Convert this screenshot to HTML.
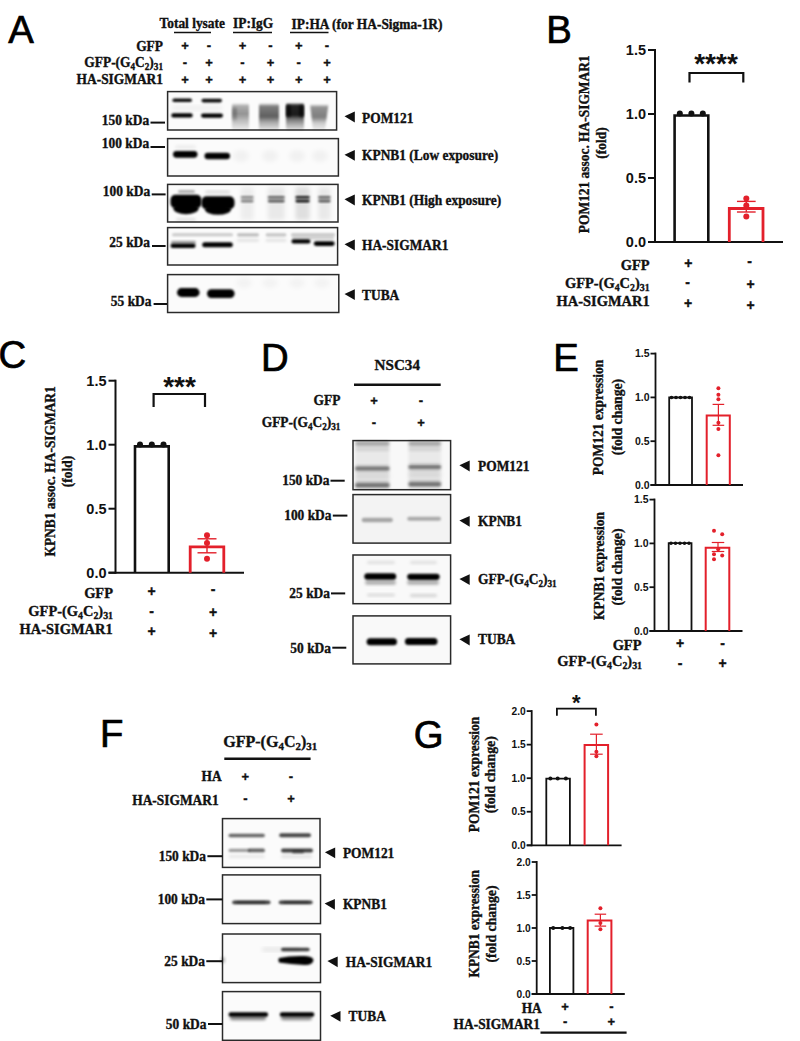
<!DOCTYPE html>
<html><head><meta charset="utf-8"><title>Figure</title>
<style>html,body{margin:0;padding:0;background:#fff;}svg{display:block;}</style>
</head><body>
<svg width="800" height="1041" viewBox="0 0 800 1041">
<rect width="800" height="1041" fill="#fff"/>
<defs><filter id="b8" x="-50%" y="-50%" width="200%" height="200%"><feGaussianBlur stdDeviation="0.8"/></filter><filter id="b9" x="-50%" y="-50%" width="200%" height="200%"><feGaussianBlur stdDeviation="0.9"/></filter><filter id="b10" x="-50%" y="-50%" width="200%" height="200%"><feGaussianBlur stdDeviation="1.0"/></filter><filter id="b11" x="-50%" y="-50%" width="200%" height="200%"><feGaussianBlur stdDeviation="1.1"/></filter><filter id="b12" x="-50%" y="-50%" width="200%" height="200%"><feGaussianBlur stdDeviation="1.2"/></filter><filter id="b13" x="-50%" y="-50%" width="200%" height="200%"><feGaussianBlur stdDeviation="1.3"/></filter><filter id="b14" x="-50%" y="-50%" width="200%" height="200%"><feGaussianBlur stdDeviation="1.4"/></filter><filter id="b15" x="-50%" y="-50%" width="200%" height="200%"><feGaussianBlur stdDeviation="1.5"/></filter><filter id="b16" x="-50%" y="-50%" width="200%" height="200%"><feGaussianBlur stdDeviation="1.6"/></filter><filter id="b20" x="-50%" y="-50%" width="200%" height="200%"><feGaussianBlur stdDeviation="2.0"/></filter><linearGradient id="g0" x1="0" y1="0" x2="0" y2="1"><stop offset="0" stop-color="#000" stop-opacity="0"/><stop offset="0.1" stop-color="#000" stop-opacity="0.3"/><stop offset="0.4" stop-color="#000" stop-opacity="0.42"/><stop offset="0.65" stop-color="#000" stop-opacity="0.25"/><stop offset="1" stop-color="#000" stop-opacity="0.06"/></linearGradient><linearGradient id="g1" x1="0" y1="0" x2="0" y2="1"><stop offset="0" stop-color="#000" stop-opacity="0"/><stop offset="0.2" stop-color="#000" stop-opacity="0.2"/><stop offset="0.7" stop-color="#000" stop-opacity="0.2"/><stop offset="1" stop-color="#000" stop-opacity="0"/></linearGradient><linearGradient id="g2" x1="0" y1="0" x2="0" y2="1"><stop offset="0" stop-color="#000" stop-opacity="0"/><stop offset="0.12" stop-color="#000" stop-opacity="0.5"/><stop offset="0.5" stop-color="#000" stop-opacity="0.62"/><stop offset="0.72" stop-color="#000" stop-opacity="0.32"/><stop offset="1" stop-color="#000" stop-opacity="0.1"/></linearGradient><linearGradient id="g3" x1="0" y1="0" x2="0" y2="1"><stop offset="0" stop-color="#000" stop-opacity="0"/><stop offset="0.1" stop-color="#000" stop-opacity="0.85"/><stop offset="0.45" stop-color="#000" stop-opacity="0.9"/><stop offset="0.6" stop-color="#000" stop-opacity="0.55"/><stop offset="0.8" stop-color="#000" stop-opacity="0.3"/><stop offset="1" stop-color="#000" stop-opacity="0.12"/></linearGradient><linearGradient id="g4" x1="0" y1="0" x2="0" y2="1"><stop offset="0" stop-color="#000" stop-opacity="0"/><stop offset="0.2" stop-color="#000" stop-opacity="0.6"/><stop offset="0.8" stop-color="#000" stop-opacity="0.6"/><stop offset="1" stop-color="#000" stop-opacity="0"/></linearGradient><linearGradient id="g5" x1="0" y1="0" x2="0" y2="1"><stop offset="0" stop-color="#000" stop-opacity="0"/><stop offset="0.2" stop-color="#000" stop-opacity="0.6"/><stop offset="0.8" stop-color="#000" stop-opacity="0.6"/><stop offset="1" stop-color="#000" stop-opacity="0"/></linearGradient><linearGradient id="g6" x1="0" y1="0" x2="0" y2="1"><stop offset="0" stop-color="#000" stop-opacity="0"/><stop offset="0.12" stop-color="#000" stop-opacity="0.42"/><stop offset="0.5" stop-color="#000" stop-opacity="0.5"/><stop offset="0.72" stop-color="#000" stop-opacity="0.2"/><stop offset="1" stop-color="#000" stop-opacity="0.05"/></linearGradient></defs>
<text transform="translate(8.3,42.5)" font-family="'Liberation Sans', sans-serif" font-size="38.30" font-weight="normal" text-anchor="start" fill="#000" stroke="#000" stroke-width="0.7">A</text>
<text transform="translate(159.5,28) scale(0.985,1)" font-family="'Liberation Serif', serif" font-size="13.63" font-weight="bold" text-anchor="start" fill="#111" stroke="#111" stroke-width="0.35" >Total lysate</text>
<text transform="translate(233,28) scale(0.985,1)" font-family="'Liberation Serif', serif" font-size="13.63" font-weight="bold" text-anchor="start" fill="#111" stroke="#111" stroke-width="0.35" >IP:IgG</text>
<text transform="translate(291.5,28.5) scale(0.985,1)" font-family="'Liberation Serif', serif" font-size="13.63" font-weight="bold" text-anchor="start" fill="#111" stroke="#111" stroke-width="0.35" >IP:HA (for HA-Sigma-1R)</text>
<line x1="174" y1="32.5" x2="211" y2="32.5" stroke="#111" stroke-width="1.6"/>
<line x1="233" y1="32.5" x2="272" y2="32.5" stroke="#111" stroke-width="1.6"/>
<line x1="290" y1="32.5" x2="328.5" y2="32.5" stroke="#111" stroke-width="1.6"/>
<text transform="translate(163,50.5) scale(0.985,1)" font-family="'Liberation Serif', serif" font-size="13.63" font-weight="bold" text-anchor="end" fill="#111" stroke="#111" stroke-width="0.35" >GFP</text>
<text transform="translate(163,67) scale(0.985,1)" font-family="'Liberation Serif', serif" font-size="13.63" font-weight="bold" text-anchor="end" fill="#111" stroke="#111" stroke-width="0.35" >GFP-(G<tspan font-size="9.3" dy="3.0">4</tspan><tspan dy="-3.0">C</tspan><tspan font-size="9.3" dy="3.0">2</tspan><tspan dy="-3.0">)</tspan><tspan font-size="9.3" dy="3.0">31</tspan></text>
<text transform="translate(163,84) scale(0.985,1)" font-family="'Liberation Serif', serif" font-size="13.63" font-weight="bold" text-anchor="end" fill="#111" stroke="#111" stroke-width="0.35" >HA-SIGMAR1</text>
<text transform="translate(185,50.29)" font-family="'Liberation Sans', sans-serif" font-size="13.00" font-weight="bold" text-anchor="middle" fill="#111" stroke="#111" stroke-width="0.35">+</text>
<text transform="translate(209,50.29)" font-family="'Liberation Sans', sans-serif" font-size="13.00" font-weight="bold" text-anchor="middle" fill="#111" stroke="#111" stroke-width="0.35">-</text>
<text transform="translate(242.5,50.29)" font-family="'Liberation Sans', sans-serif" font-size="13.00" font-weight="bold" text-anchor="middle" fill="#111" stroke="#111" stroke-width="0.35">+</text>
<text transform="translate(270.5,50.29)" font-family="'Liberation Sans', sans-serif" font-size="13.00" font-weight="bold" text-anchor="middle" fill="#111" stroke="#111" stroke-width="0.35">-</text>
<text transform="translate(298.75,50.29)" font-family="'Liberation Sans', sans-serif" font-size="13.00" font-weight="bold" text-anchor="middle" fill="#111" stroke="#111" stroke-width="0.35">+</text>
<text transform="translate(327,50.29)" font-family="'Liberation Sans', sans-serif" font-size="13.00" font-weight="bold" text-anchor="middle" fill="#111" stroke="#111" stroke-width="0.35">-</text>
<text transform="translate(185,66.79)" font-family="'Liberation Sans', sans-serif" font-size="13.00" font-weight="bold" text-anchor="middle" fill="#111" stroke="#111" stroke-width="0.35">-</text>
<text transform="translate(209,66.79)" font-family="'Liberation Sans', sans-serif" font-size="13.00" font-weight="bold" text-anchor="middle" fill="#111" stroke="#111" stroke-width="0.35">+</text>
<text transform="translate(242.5,66.79)" font-family="'Liberation Sans', sans-serif" font-size="13.00" font-weight="bold" text-anchor="middle" fill="#111" stroke="#111" stroke-width="0.35">-</text>
<text transform="translate(270.5,66.79)" font-family="'Liberation Sans', sans-serif" font-size="13.00" font-weight="bold" text-anchor="middle" fill="#111" stroke="#111" stroke-width="0.35">+</text>
<text transform="translate(298.75,66.79)" font-family="'Liberation Sans', sans-serif" font-size="13.00" font-weight="bold" text-anchor="middle" fill="#111" stroke="#111" stroke-width="0.35">-</text>
<text transform="translate(327,66.79)" font-family="'Liberation Sans', sans-serif" font-size="13.00" font-weight="bold" text-anchor="middle" fill="#111" stroke="#111" stroke-width="0.35">+</text>
<text transform="translate(185,84.29)" font-family="'Liberation Sans', sans-serif" font-size="13.00" font-weight="bold" text-anchor="middle" fill="#111" stroke="#111" stroke-width="0.35">+</text>
<text transform="translate(209,84.29)" font-family="'Liberation Sans', sans-serif" font-size="13.00" font-weight="bold" text-anchor="middle" fill="#111" stroke="#111" stroke-width="0.35">+</text>
<text transform="translate(242.5,84.29)" font-family="'Liberation Sans', sans-serif" font-size="13.00" font-weight="bold" text-anchor="middle" fill="#111" stroke="#111" stroke-width="0.35">+</text>
<text transform="translate(270.5,84.29)" font-family="'Liberation Sans', sans-serif" font-size="13.00" font-weight="bold" text-anchor="middle" fill="#111" stroke="#111" stroke-width="0.35">+</text>
<text transform="translate(298.75,84.29)" font-family="'Liberation Sans', sans-serif" font-size="13.00" font-weight="bold" text-anchor="middle" fill="#111" stroke="#111" stroke-width="0.35">+</text>
<text transform="translate(327,84.29)" font-family="'Liberation Sans', sans-serif" font-size="13.00" font-weight="bold" text-anchor="middle" fill="#111" stroke="#111" stroke-width="0.35">+</text>
<rect x="167.6" y="91.6" width="169.00000000000003" height="38.400000000000006" fill="#fbfbfb" stroke="#2a2a2a" stroke-width="1.5"/>
<rect x="167.6" y="138.6" width="170.79999999999998" height="37.400000000000006" fill="#fbfbfb" stroke="#2a2a2a" stroke-width="1.5"/>
<rect x="167.6" y="184.4" width="170.4" height="37.599999999999994" fill="#fbfbfb" stroke="#2a2a2a" stroke-width="1.5"/>
<rect x="167.6" y="227.6" width="170.00000000000003" height="37.400000000000006" fill="#fbfbfb" stroke="#2a2a2a" stroke-width="1.5"/>
<rect x="167.6" y="274.6" width="171.20000000000002" height="37.89999999999998" fill="#fbfbfb" stroke="#2a2a2a" stroke-width="1.5"/>
<text transform="translate(149.2,124.6) scale(0.985,1)" font-family="'Liberation Serif', serif" font-size="13.63" font-weight="bold" text-anchor="end" fill="#111" stroke="#111" stroke-width="0.35" >150 kDa</text>
<line x1="150.5" y1="122.6" x2="165" y2="122.6" stroke="#111" stroke-width="2.0"/>
<text transform="translate(149.2,148.4) scale(0.985,1)" font-family="'Liberation Serif', serif" font-size="13.63" font-weight="bold" text-anchor="end" fill="#111" stroke="#111" stroke-width="0.35" >100 kDa</text>
<line x1="150.5" y1="147" x2="165" y2="147" stroke="#111" stroke-width="2.0"/>
<text transform="translate(150.2,196.4) scale(0.985,1)" font-family="'Liberation Serif', serif" font-size="13.63" font-weight="bold" text-anchor="end" fill="#111" stroke="#111" stroke-width="0.35" >100 kDa</text>
<line x1="151.7" y1="194.4" x2="165.6" y2="194.4" stroke="#111" stroke-width="2.0"/>
<text transform="translate(150,247.2) scale(0.985,1)" font-family="'Liberation Serif', serif" font-size="13.63" font-weight="bold" text-anchor="end" fill="#111" stroke="#111" stroke-width="0.35" >25 kDa</text>
<line x1="152" y1="246" x2="165.6" y2="246" stroke="#111" stroke-width="2.0"/>
<text transform="translate(151.5,305.8) scale(0.985,1)" font-family="'Liberation Serif', serif" font-size="13.63" font-weight="bold" text-anchor="end" fill="#111" stroke="#111" stroke-width="0.35" >55 kDa</text>
<line x1="153.6" y1="304" x2="167" y2="304" stroke="#111" stroke-width="2.0"/>
<polygon points="344.5,116.3 354.8,111.6 354.8,122.4" fill="#111"/>
<text transform="translate(362,122.6) scale(0.985,1)" font-family="'Liberation Serif', serif" font-size="13.63" font-weight="bold" text-anchor="start" fill="#111" stroke="#111" stroke-width="0.35" >POM121</text>
<polygon points="344.5,154.70000000000002 354.8,150.0 354.8,160.8" fill="#111"/>
<text transform="translate(362,160.2) scale(0.985,1)" font-family="'Liberation Serif', serif" font-size="13.63" font-weight="bold" text-anchor="start" fill="#111" stroke="#111" stroke-width="0.35" >KPNB1 (Low exposure)</text>
<polygon points="344.5,199.3 354.8,194.6 354.8,205.4" fill="#111"/>
<text transform="translate(362,205) scale(0.985,1)" font-family="'Liberation Serif', serif" font-size="13.63" font-weight="bold" text-anchor="start" fill="#111" stroke="#111" stroke-width="0.35" >KPNB1 (High exposure)</text>
<polygon points="344.5,244.3 354.8,239.6 354.8,250.4" fill="#111"/>
<text transform="translate(362,250) scale(0.985,1)" font-family="'Liberation Serif', serif" font-size="13.63" font-weight="bold" text-anchor="start" fill="#111" stroke="#111" stroke-width="0.35" >HA-SIGMAR1</text>
<polygon points="344.5,294.0 354.8,289.3 354.8,300.09999999999997" fill="#111"/>
<text transform="translate(362,300.3) scale(0.985,1)" font-family="'Liberation Serif', serif" font-size="13.63" font-weight="bold" text-anchor="start" fill="#111" stroke="#111" stroke-width="0.35" >TUBA</text>
<rect x="172.4" y="98.5" width="19.599999999999994" height="3.6" rx="1.8" fill="#000" fill-opacity="0.95" filter="url(#b8)"/>
<rect x="201.5" y="98.8" width="20.5" height="3.6" rx="1.8" fill="#000" fill-opacity="0.95" filter="url(#b8)"/>
<rect x="171.3" y="113.30000000000001" width="21.399999999999977" height="4.2" rx="2.1" fill="#000" fill-opacity="1.0" filter="url(#b8)"/>
<rect x="201" y="113.5" width="22" height="4.2" rx="2.1" fill="#000" fill-opacity="1.0" filter="url(#b8)"/>
<rect x="172" y="106.0" width="50" height="4" rx="2.0" fill="#000" fill-opacity="0.06" filter="url(#b20)"/>
<rect x="232" y="103" width="17" height="27" rx="2" fill="url(#g0)" filter="url(#b13)"/>
<rect x="232" y="106" width="5" height="16" rx="2" fill="url(#g1)" filter="url(#b10)"/>
<rect x="259" y="103" width="20" height="27" rx="2" fill="url(#g2)" filter="url(#b13)"/>
<rect x="286" y="102.5" width="18" height="27.5" rx="2" fill="url(#g3)" filter="url(#b12)"/>
<rect x="286" y="104" width="5" height="14" rx="2" fill="url(#g4)" filter="url(#b9)"/>
<rect x="299" y="104" width="5" height="14" rx="2" fill="url(#g5)" filter="url(#b9)"/>
<path d="M310,104 L328.5,104 L325,130 L313,130 Z" fill="url(#g6)" filter="url(#b13)"/>
<rect x="173" y="150.9" width="24.5" height="6.8" rx="3.4" fill="#000" fill-opacity="1.0" filter="url(#b9)"/>
<rect x="204.5" y="152.7" width="25.5" height="6.6" rx="3.3" fill="#000" fill-opacity="1.0" filter="url(#b9)"/>
<rect x="175" y="145.0" width="21" height="4" rx="2.0" fill="#000" fill-opacity="0.05" filter="url(#b15)"/>
<ellipse cx="241" cy="156" rx="8" ry="6" fill="#000" fill-opacity="0.04" filter="url(#b20)"/>
<ellipse cx="270" cy="156" rx="8" ry="6" fill="#000" fill-opacity="0.04" filter="url(#b20)"/>
<ellipse cx="297" cy="156" rx="8" ry="6" fill="#000" fill-opacity="0.04" filter="url(#b20)"/>
<ellipse cx="320" cy="156" rx="8" ry="6" fill="#000" fill-opacity="0.04" filter="url(#b20)"/>
<rect x="178" y="190.0" width="17" height="3" rx="1.5" fill="#000" fill-opacity="0.3" filter="url(#b12)"/>
<rect x="205" y="190.5" width="25" height="3" rx="1.5" fill="#000" fill-opacity="0.12" filter="url(#b15)"/>
<rect x="170.5" y="194.8" width="31" height="13.5" rx="5" fill="#000" filter="url(#b8)"/>
<ellipse cx="186" cy="208.5" rx="12.5" ry="5.8" fill="#000" filter="url(#b8)"/>
<rect x="201.5" y="196.3" width="33" height="13" rx="5" fill="#000" filter="url(#b8)"/>
<ellipse cx="218" cy="209.5" rx="13" ry="5.3" fill="#000" filter="url(#b8)"/>
<rect x="176" y="218.0" width="20" height="3" rx="1.5" fill="#000" fill-opacity="0.1" filter="url(#b15)"/>
<rect x="240.8" y="196.0" width="12.799999999999983" height="2.6" rx="1.3" fill="#000" fill-opacity="0.45" filter="url(#b8)"/>
<rect x="240.8" y="199.6" width="12.799999999999983" height="2.8" rx="1.4" fill="#000" fill-opacity="0.45" filter="url(#b8)"/>
<rect x="240.8" y="187" width="12.799999999999983" height="33" rx="2" fill="#000" fill-opacity="0.054" filter="url(#b20)"/>
<rect x="267.8" y="196.0" width="16.899999999999977" height="2.6" rx="1.3" fill="#000" fill-opacity="0.6" filter="url(#b8)"/>
<rect x="267.8" y="199.6" width="16.899999999999977" height="2.8" rx="1.4" fill="#000" fill-opacity="0.6" filter="url(#b8)"/>
<rect x="267.8" y="187" width="16.899999999999977" height="33" rx="2" fill="#000" fill-opacity="0.072" filter="url(#b20)"/>
<rect x="295.5" y="196.0" width="14.199999999999989" height="2.6" rx="1.3" fill="#000" fill-opacity="0.9" filter="url(#b8)"/>
<rect x="295.5" y="199.6" width="14.199999999999989" height="2.8" rx="1.4" fill="#000" fill-opacity="0.9" filter="url(#b8)"/>
<rect x="295.5" y="187" width="14.199999999999989" height="33" rx="2" fill="#000" fill-opacity="0.108" filter="url(#b20)"/>
<rect x="318.2" y="196.0" width="12.400000000000034" height="2.6" rx="1.3" fill="#000" fill-opacity="0.6" filter="url(#b8)"/>
<rect x="318.2" y="199.6" width="12.400000000000034" height="2.8" rx="1.4" fill="#000" fill-opacity="0.6" filter="url(#b8)"/>
<rect x="318.2" y="187" width="12.400000000000034" height="33" rx="2" fill="#000" fill-opacity="0.072" filter="url(#b20)"/>
<rect x="170.5" y="243.5" width="25.099999999999994" height="4.6" rx="2.3" fill="#000" fill-opacity="1.0" filter="url(#b8)"/>
<rect x="202.2" y="242.2" width="30.600000000000023" height="5" rx="2.5" fill="#000" fill-opacity="1.0" filter="url(#b8)"/>
<rect x="171" y="240.7" width="25" height="3" rx="1.5" fill="#000" fill-opacity="0.35" filter="url(#b10)"/>
<rect x="172" y="233.3" width="61" height="3" rx="1.5" fill="#000" fill-opacity="0.2" filter="url(#b12)"/>
<rect x="237" y="233.20000000000002" width="22" height="3.2" rx="1.6" fill="#000" fill-opacity="0.25" filter="url(#b12)"/>
<rect x="265.6" y="233.20000000000002" width="20.799999999999955" height="3.2" rx="1.6" fill="#000" fill-opacity="0.22" filter="url(#b12)"/>
<rect x="237" y="238.8" width="22" height="3" rx="1.5" fill="#000" fill-opacity="0.1" filter="url(#b15)"/>
<rect x="265.6" y="238.8" width="20.799999999999955" height="3" rx="1.5" fill="#000" fill-opacity="0.1" filter="url(#b15)"/>
<rect x="291" y="233.3" width="44" height="3" rx="1.5" fill="#000" fill-opacity="0.22" filter="url(#b12)"/>
<rect x="291.5" y="239.3" width="19.0" height="4.2" rx="2.1" fill="#000" fill-opacity="1.0" filter="url(#b8)"/>
<rect x="313.8" y="241.29999999999998" width="20.80000000000001" height="4.6" rx="2.3" fill="#000" fill-opacity="1.0" filter="url(#b8)"/>
<rect x="292" y="236.75" width="42" height="2.5" rx="1.25" fill="#000" fill-opacity="0.2" filter="url(#b10)"/>
<rect x="177" y="288.1" width="22.599999999999994" height="8.8" rx="4.4" fill="#000" fill-opacity="1.0" filter="url(#b10)"/>
<rect x="207" y="289.3" width="27.599999999999994" height="8.6" rx="4.3" fill="#000" fill-opacity="1.0" filter="url(#b10)"/>
<ellipse cx="244" cy="283" rx="8" ry="5" fill="#000" fill-opacity="0.03" filter="url(#b20)"/>
<ellipse cx="270" cy="283" rx="8" ry="5" fill="#000" fill-opacity="0.03" filter="url(#b20)"/>
<ellipse cx="297" cy="283" rx="8" ry="5" fill="#000" fill-opacity="0.03" filter="url(#b20)"/>
<ellipse cx="322" cy="283" rx="8" ry="5" fill="#000" fill-opacity="0.03" filter="url(#b20)"/>
<text transform="translate(546.2,43.2)" font-family="'Liberation Sans', sans-serif" font-size="38.30" font-weight="normal" text-anchor="start" fill="#000" stroke="#000" stroke-width="0.7">B</text>
<line x1="655" y1="49.0" x2="655" y2="243.0" stroke="#111" stroke-width="2.0"/>
<line x1="648" y1="242" x2="783" y2="242" stroke="#111" stroke-width="2.0"/>
<line x1="648" y1="242" x2="655" y2="242" stroke="#111" stroke-width="2.0"/>
<text transform="translate(646,247.22)" font-family="'Liberation Sans', sans-serif" font-size="14.50" font-weight="bold" text-anchor="end" fill="#111" >0.0</text>
<line x1="648" y1="178.0" x2="655" y2="178.0" stroke="#111" stroke-width="2.0"/>
<text transform="translate(646,183.22)" font-family="'Liberation Sans', sans-serif" font-size="14.50" font-weight="bold" text-anchor="end" fill="#111" >0.5</text>
<line x1="648" y1="114.0" x2="655" y2="114.0" stroke="#111" stroke-width="2.0"/>
<text transform="translate(646,119.22)" font-family="'Liberation Sans', sans-serif" font-size="14.50" font-weight="bold" text-anchor="end" fill="#111" >1.0</text>
<line x1="648" y1="50.0" x2="655" y2="50.0" stroke="#111" stroke-width="2.0"/>
<text transform="translate(646,55.22)" font-family="'Liberation Sans', sans-serif" font-size="14.50" font-weight="bold" text-anchor="end" fill="#111" >1.5</text>
<path d="M674.6,242 L674.6,115.5 L708.3,115.5 L708.3,242" fill="none" stroke="#111" stroke-width="2.6"/>
<circle cx="679.8" cy="113.6" r="3" fill="#111"/>
<circle cx="691.4" cy="113.6" r="3" fill="#111"/>
<circle cx="702.8" cy="113.6" r="3" fill="#111"/>
<path d="M729.3,242 L729.3,208.5 L763,208.5 L763,242" fill="none" stroke="#e3202b" stroke-width="2.8"/>
<line x1="746.3" y1="201.4" x2="746.3" y2="212" stroke="#e3202b" stroke-width="1.4"/>
<line x1="736.9499999999999" y1="201.4" x2="755.65" y2="201.4" stroke="#e3202b" stroke-width="1.4"/>
<line x1="736.9499999999999" y1="212" x2="755.65" y2="212" stroke="#e3202b" stroke-width="1.4"/>
<circle cx="746.3" cy="198.5" r="3" fill="#e3202b"/>
<circle cx="746.3" cy="205.5" r="3" fill="#e3202b"/>
<circle cx="746.3" cy="216.5" r="3" fill="#e3202b"/>
<path d="M689.5,82.5 L689.5,73 L743.3,73 L743.3,82.5" fill="none" stroke="#111" stroke-width="2.2"/>
<text transform="translate(716,73)" font-family="'Liberation Sans', sans-serif" font-size="28.00" font-weight="bold" text-anchor="middle" fill="#111" >****</text>
<text transform="translate(589,144.3) rotate(-90) scale(0.985,1)" font-family="'Liberation Serif', serif" font-size="13.63" font-weight="bold" text-anchor="middle" fill="#111" stroke="#111" stroke-width="0.35" >POM121 assoc. HA-SIGMAR1</text>
<text transform="translate(606,143) rotate(-90) scale(0.985,1)" font-family="'Liberation Serif', serif" font-size="13.63" font-weight="bold" text-anchor="middle" fill="#111" stroke="#111" stroke-width="0.35" >(fold)</text>
<text transform="translate(649.6,270) scale(0.985,1)" font-family="'Liberation Serif', serif" font-size="14.66" font-weight="bold" text-anchor="end" fill="#111" stroke="#111" stroke-width="0.35" >GFP</text>
<text transform="translate(649.6,288) scale(0.985,1)" font-family="'Liberation Serif', serif" font-size="14.66" font-weight="bold" text-anchor="end" fill="#111" stroke="#111" stroke-width="0.35" >GFP-(G<tspan font-size="10.0" dy="3.2">4</tspan><tspan dy="-3.2">C</tspan><tspan font-size="10.0" dy="3.2">2</tspan><tspan dy="-3.2">)</tspan><tspan font-size="10.0" dy="3.2">31</tspan></text>
<text transform="translate(649.6,306.4) scale(0.985,1)" font-family="'Liberation Serif', serif" font-size="14.66" font-weight="bold" text-anchor="end" fill="#111" stroke="#111" stroke-width="0.35" >HA-SIGMAR1</text>
<text transform="translate(688.3,268.42)" font-family="'Liberation Sans', sans-serif" font-size="14.00" font-weight="bold" text-anchor="middle" fill="#111" stroke="#111" stroke-width="0.35">+</text>
<text transform="translate(749.5,266.12)" font-family="'Liberation Sans', sans-serif" font-size="14.00" font-weight="bold" text-anchor="middle" fill="#111" stroke="#111" stroke-width="0.35">-</text>
<text transform="translate(687.7,286.92)" font-family="'Liberation Sans', sans-serif" font-size="14.00" font-weight="bold" text-anchor="middle" fill="#111" stroke="#111" stroke-width="0.35">-</text>
<text transform="translate(750.5,288.82)" font-family="'Liberation Sans', sans-serif" font-size="14.00" font-weight="bold" text-anchor="middle" fill="#111" stroke="#111" stroke-width="0.35">+</text>
<text transform="translate(688,307.82)" font-family="'Liberation Sans', sans-serif" font-size="14.00" font-weight="bold" text-anchor="middle" fill="#111" stroke="#111" stroke-width="0.35">+</text>
<text transform="translate(750.5,309.62)" font-family="'Liberation Sans', sans-serif" font-size="14.00" font-weight="bold" text-anchor="middle" fill="#111" stroke="#111" stroke-width="0.35">+</text>
<text transform="translate(-1.4,368)" font-family="'Liberation Sans', sans-serif" font-size="38.30" font-weight="normal" text-anchor="start" fill="#000" stroke="#000" stroke-width="0.7">C</text>
<line x1="115.5" y1="379.70000000000005" x2="115.5" y2="573.7" stroke="#111" stroke-width="2.0"/>
<line x1="108.5" y1="572.7" x2="244" y2="572.7" stroke="#111" stroke-width="2.0"/>
<line x1="108.5" y1="572.7" x2="115.5" y2="572.7" stroke="#111" stroke-width="2.0"/>
<text transform="translate(106.5,577.9200000000001)" font-family="'Liberation Sans', sans-serif" font-size="14.50" font-weight="bold" text-anchor="end" fill="#111" >0.0</text>
<line x1="108.5" y1="508.70000000000005" x2="115.5" y2="508.70000000000005" stroke="#111" stroke-width="2.0"/>
<text transform="translate(106.5,513.9200000000001)" font-family="'Liberation Sans', sans-serif" font-size="14.50" font-weight="bold" text-anchor="end" fill="#111" >0.5</text>
<line x1="108.5" y1="444.70000000000005" x2="115.5" y2="444.70000000000005" stroke="#111" stroke-width="2.0"/>
<text transform="translate(106.5,449.9200000000001)" font-family="'Liberation Sans', sans-serif" font-size="14.50" font-weight="bold" text-anchor="end" fill="#111" >1.0</text>
<line x1="108.5" y1="380.70000000000005" x2="115.5" y2="380.70000000000005" stroke="#111" stroke-width="2.0"/>
<text transform="translate(106.5,385.9200000000001)" font-family="'Liberation Sans', sans-serif" font-size="14.50" font-weight="bold" text-anchor="end" fill="#111" >1.5</text>
<path d="M135,572.7 L135,446.4 L168.7,446.4 L168.7,572.7" fill="none" stroke="#111" stroke-width="2.6"/>
<circle cx="140" cy="444.5" r="3" fill="#111"/>
<circle cx="151.8" cy="444.5" r="3" fill="#111"/>
<circle cx="163.5" cy="444.5" r="3" fill="#111"/>
<path d="M190.2,572.7 L190.2,546.9 L223.8,546.9 L223.8,572.7" fill="none" stroke="#e3202b" stroke-width="2.8"/>
<line x1="207" y1="538.8" x2="207" y2="552.8" stroke="#e3202b" stroke-width="1.4"/>
<line x1="197.5" y1="538.8" x2="216.5" y2="538.8" stroke="#e3202b" stroke-width="1.4"/>
<line x1="197.5" y1="552.8" x2="216.5" y2="552.8" stroke="#e3202b" stroke-width="1.4"/>
<circle cx="207" cy="535.3" r="3" fill="#e3202b"/>
<circle cx="207" cy="543.1" r="3" fill="#e3202b"/>
<circle cx="207" cy="558.8" r="3" fill="#e3202b"/>
<path d="M153.6,407 L153.6,394 L205,394 L205,407" fill="none" stroke="#111" stroke-width="2.2"/>
<text transform="translate(179.5,395.5)" font-family="'Liberation Sans', sans-serif" font-size="28.00" font-weight="bold" text-anchor="middle" fill="#111" >***</text>
<text transform="translate(55,471.4) rotate(-90) scale(0.985,1)" font-family="'Liberation Serif', serif" font-size="13.63" font-weight="bold" text-anchor="middle" fill="#111" stroke="#111" stroke-width="0.35" >KPNB1 assoc. HA-SIGMAR1</text>
<text transform="translate(71.5,471.5) rotate(-90) scale(0.985,1)" font-family="'Liberation Serif', serif" font-size="13.63" font-weight="bold" text-anchor="middle" fill="#111" stroke="#111" stroke-width="0.35" >(fold)</text>
<text transform="translate(113,597.6) scale(0.985,1)" font-family="'Liberation Serif', serif" font-size="14.66" font-weight="bold" text-anchor="end" fill="#111" stroke="#111" stroke-width="0.35" >GFP</text>
<text transform="translate(113,615.5) scale(0.985,1)" font-family="'Liberation Serif', serif" font-size="14.66" font-weight="bold" text-anchor="end" fill="#111" stroke="#111" stroke-width="0.35" >GFP-(G<tspan font-size="10.0" dy="3.2">4</tspan><tspan dy="-3.2">C</tspan><tspan font-size="10.0" dy="3.2">2</tspan><tspan dy="-3.2">)</tspan><tspan font-size="10.0" dy="3.2">31</tspan></text>
<text transform="translate(112.6,634) scale(0.985,1)" font-family="'Liberation Serif', serif" font-size="14.66" font-weight="bold" text-anchor="end" fill="#111" stroke="#111" stroke-width="0.35" >HA-SIGMAR1</text>
<text transform="translate(151.6,596.22)" font-family="'Liberation Sans', sans-serif" font-size="14.00" font-weight="bold" text-anchor="middle" fill="#111" stroke="#111" stroke-width="0.35">+</text>
<text transform="translate(213,593.62)" font-family="'Liberation Sans', sans-serif" font-size="14.00" font-weight="bold" text-anchor="middle" fill="#111" stroke="#111" stroke-width="0.35">-</text>
<text transform="translate(151.6,615.52)" font-family="'Liberation Sans', sans-serif" font-size="14.00" font-weight="bold" text-anchor="middle" fill="#111" stroke="#111" stroke-width="0.35">-</text>
<text transform="translate(213,616.62)" font-family="'Liberation Sans', sans-serif" font-size="14.00" font-weight="bold" text-anchor="middle" fill="#111" stroke="#111" stroke-width="0.35">+</text>
<text transform="translate(151.6,636.12)" font-family="'Liberation Sans', sans-serif" font-size="14.00" font-weight="bold" text-anchor="middle" fill="#111" stroke="#111" stroke-width="0.35">+</text>
<text transform="translate(213,637.62)" font-family="'Liberation Sans', sans-serif" font-size="14.00" font-weight="bold" text-anchor="middle" fill="#111" stroke="#111" stroke-width="0.35">+</text>
<text transform="translate(261,371)" font-family="'Liberation Sans', sans-serif" font-size="38.30" font-weight="normal" text-anchor="start" fill="#000" stroke="#000" stroke-width="0.7">D</text>
<text transform="translate(397.3,370) scale(0.985,1)" font-family="'Liberation Serif', serif" font-size="15.37" font-weight="bold" text-anchor="middle" fill="#111" stroke="#111" stroke-width="0.35" >NSC34</text>
<line x1="354" y1="384.7" x2="440.7" y2="384.7" stroke="#111" stroke-width="2.5"/>
<text transform="translate(340.4,405) scale(0.985,1)" font-family="'Liberation Serif', serif" font-size="13.63" font-weight="bold" text-anchor="end" fill="#111" stroke="#111" stroke-width="0.35" >GFP</text>
<text transform="translate(340.4,427) scale(0.985,1)" font-family="'Liberation Serif', serif" font-size="13.63" font-weight="bold" text-anchor="end" fill="#111" stroke="#111" stroke-width="0.35" >GFP-(G<tspan font-size="9.3" dy="3.0">4</tspan><tspan dy="-3.0">C</tspan><tspan font-size="9.3" dy="3.0">2</tspan><tspan dy="-3.0">)</tspan><tspan font-size="9.3" dy="3.0">31</tspan></text>
<text transform="translate(374,405.29)" font-family="'Liberation Sans', sans-serif" font-size="13.00" font-weight="bold" text-anchor="middle" fill="#111" stroke="#111" stroke-width="0.35">+</text>
<text transform="translate(421,405.29)" font-family="'Liberation Sans', sans-serif" font-size="13.00" font-weight="bold" text-anchor="middle" fill="#111" stroke="#111" stroke-width="0.35">-</text>
<text transform="translate(374,427.09000000000003)" font-family="'Liberation Sans', sans-serif" font-size="13.00" font-weight="bold" text-anchor="middle" fill="#111" stroke="#111" stroke-width="0.35">-</text>
<text transform="translate(421,427.09000000000003)" font-family="'Liberation Sans', sans-serif" font-size="13.00" font-weight="bold" text-anchor="middle" fill="#111" stroke="#111" stroke-width="0.35">+</text>
<rect x="353" y="440.6" width="97.60000000000002" height="49.099999999999966" fill="#f8f8f8" stroke="#2a2a2a" stroke-width="1.5"/>
<rect x="353" y="494.6" width="97.60000000000002" height="48.5" fill="#f3f3f3" stroke="#2a2a2a" stroke-width="1.5"/>
<rect x="353" y="555" width="97.60000000000002" height="48.700000000000045" fill="#f9f9f9" stroke="#2a2a2a" stroke-width="1.5"/>
<rect x="353" y="615.9" width="97.60000000000002" height="48.0" fill="#f9f9f9" stroke="#2a2a2a" stroke-width="1.5"/>
<text transform="translate(329.5,485) scale(0.985,1)" font-family="'Liberation Serif', serif" font-size="13.63" font-weight="bold" text-anchor="end" fill="#111" stroke="#111" stroke-width="0.35" >150 kDa</text>
<line x1="330.5" y1="480.7" x2="344.7" y2="480.7" stroke="#111" stroke-width="2.0"/>
<text transform="translate(331.5,520) scale(0.985,1)" font-family="'Liberation Serif', serif" font-size="13.63" font-weight="bold" text-anchor="end" fill="#111" stroke="#111" stroke-width="0.35" >100 kDa</text>
<line x1="332.8" y1="515.6" x2="347.4" y2="515.6" stroke="#111" stroke-width="2.0"/>
<text transform="translate(330,598) scale(0.985,1)" font-family="'Liberation Serif', serif" font-size="13.63" font-weight="bold" text-anchor="end" fill="#111" stroke="#111" stroke-width="0.35" >25 kDa</text>
<line x1="331" y1="593.4" x2="345.2" y2="593.4" stroke="#111" stroke-width="2.0"/>
<text transform="translate(331,652.5) scale(0.985,1)" font-family="'Liberation Serif', serif" font-size="13.63" font-weight="bold" text-anchor="end" fill="#111" stroke="#111" stroke-width="0.35" >50 kDa</text>
<line x1="332.3" y1="647.7" x2="346.3" y2="647.7" stroke="#111" stroke-width="2.0"/>
<polygon points="459.4,465.3 469.7,460.6 469.7,471.4" fill="#111"/>
<text transform="translate(478,470.5) scale(0.985,1)" font-family="'Liberation Serif', serif" font-size="13.63" font-weight="bold" text-anchor="start" fill="#111" stroke="#111" stroke-width="0.35" >POM121</text>
<polygon points="459.4,520.5999999999999 469.7,515.9 469.7,526.6999999999999" fill="#111"/>
<text transform="translate(478,525.7) scale(0.985,1)" font-family="'Liberation Serif', serif" font-size="13.63" font-weight="bold" text-anchor="start" fill="#111" stroke="#111" stroke-width="0.35" >KPNB1</text>
<polygon points="459.4,578.9 469.7,574.2 469.7,585.0" fill="#111"/>
<text transform="translate(478,584) scale(0.985,1)" font-family="'Liberation Serif', serif" font-size="13.63" font-weight="bold" text-anchor="start" fill="#111" stroke="#111" stroke-width="0.35" >GFP-(G<tspan font-size="9.3" dy="3.0">4</tspan><tspan dy="-3.0">C</tspan><tspan font-size="9.3" dy="3.0">2</tspan><tspan dy="-3.0">)</tspan><tspan font-size="9.3" dy="3.0">31</tspan></text>
<polygon points="459.4,639.3 469.7,634.6 469.7,645.4" fill="#111"/>
<text transform="translate(478,644.4) scale(0.985,1)" font-family="'Liberation Serif', serif" font-size="13.63" font-weight="bold" text-anchor="start" fill="#111" stroke="#111" stroke-width="0.35" >TUBA</text>
<rect x="355.2" y="441.5" width="34.30000000000001" height="47.5" fill="#000" fill-opacity="0.06" filter="url(#b15)"/>
<rect x="355.2" y="441.25" width="34.30000000000001" height="4.5" rx="2" fill="#000" fill-opacity="0.3" filter="url(#b14)"/>
<rect x="355.2" y="447.0" width="34.30000000000001" height="4" rx="2" fill="#000" fill-opacity="0.1" filter="url(#b15)"/>
<rect x="355.2" y="465.85" width="34.30000000000001" height="5.5" rx="2" fill="#000" fill-opacity="0.35" filter="url(#b15)"/>
<rect x="355.2" y="467.6" width="34.30000000000001" height="2" rx="1" fill="#000" fill-opacity="0.3" filter="url(#b8)"/>
<rect x="355.2" y="472.5" width="34.30000000000001" height="7" rx="2" fill="#000" fill-opacity="0.07" filter="url(#b20)"/>
<rect x="355.2" y="482.25" width="34.30000000000001" height="5.5" rx="2" fill="#000" fill-opacity="0.42" filter="url(#b15)"/>
<rect x="355.2" y="484.5" width="34.30000000000001" height="2" rx="1" fill="#000" fill-opacity="0.25" filter="url(#b8)"/>
<rect x="408.5" y="441.5" width="32.5" height="47.5" fill="#000" fill-opacity="0.06" filter="url(#b15)"/>
<rect x="408.5" y="441.25" width="32.5" height="4.5" rx="2" fill="#000" fill-opacity="0.3" filter="url(#b14)"/>
<rect x="408.5" y="447.0" width="32.5" height="4" rx="2" fill="#000" fill-opacity="0.1" filter="url(#b15)"/>
<rect x="408.5" y="464.35" width="32.5" height="5.5" rx="2" fill="#000" fill-opacity="0.35" filter="url(#b15)"/>
<rect x="408.5" y="466.1" width="32.5" height="2" rx="1" fill="#000" fill-opacity="0.3" filter="url(#b8)"/>
<rect x="408.5" y="471.0" width="32.5" height="7" rx="2" fill="#000" fill-opacity="0.07" filter="url(#b20)"/>
<rect x="408.5" y="481.35" width="32.5" height="5.5" rx="2" fill="#000" fill-opacity="0.42" filter="url(#b15)"/>
<rect x="408.5" y="483.6" width="32.5" height="2" rx="1" fill="#000" fill-opacity="0.25" filter="url(#b8)"/>
<rect x="361.7" y="517.75" width="31.19999999999999" height="4.5" rx="2.25" fill="#000" fill-opacity="0.32" filter="url(#b13)"/>
<rect x="407.2" y="516.7" width="33.80000000000001" height="4" rx="2.0" fill="#000" fill-opacity="0.3" filter="url(#b13)"/>
<rect x="364.3" y="573.3" width="31.899999999999977" height="6.4" rx="3.2" fill="#000" fill-opacity="1.0" filter="url(#b11)"/>
<rect x="407.2" y="573.6999999999999" width="32.5" height="6.2" rx="3.1" fill="#000" fill-opacity="1.0" filter="url(#b11)"/>
<rect x="365" y="580.15" width="31" height="4.5" rx="2.25" fill="#000" fill-opacity="0.3" filter="url(#b16)"/>
<rect x="407" y="580.35" width="32" height="4.5" rx="2.25" fill="#000" fill-opacity="0.3" filter="url(#b16)"/>
<rect x="367" y="561.0" width="28" height="3" rx="1.5" fill="#000" fill-opacity="0.1" filter="url(#b15)"/>
<rect x="410" y="561.0" width="27" height="3" rx="1.5" fill="#000" fill-opacity="0.1" filter="url(#b15)"/>
<rect x="367" y="593.5" width="28" height="3" rx="1.5" fill="#000" fill-opacity="0.12" filter="url(#b15)"/>
<rect x="410" y="594.0" width="27" height="3" rx="1.5" fill="#000" fill-opacity="0.15" filter="url(#b15)"/>
<rect x="366.6" y="638.3" width="30.399999999999977" height="7" rx="3.5" fill="#000" fill-opacity="1.0" filter="url(#b11)"/>
<rect x="404.9" y="638.0" width="32.60000000000002" height="7" rx="3.5" fill="#000" fill-opacity="1.0" filter="url(#b11)"/>
<text transform="translate(553.3,371.2)" font-family="'Liberation Sans', sans-serif" font-size="38.30" font-weight="normal" text-anchor="start" fill="#000" stroke="#000" stroke-width="0.7">E</text>
<line x1="655.5" y1="352.6" x2="655.5" y2="485.9" stroke="#111" stroke-width="1.8"/>
<line x1="650.5" y1="485" x2="743" y2="485" stroke="#111" stroke-width="1.8"/>
<line x1="650.5" y1="485.0" x2="655.5" y2="485.0" stroke="#111" stroke-width="1.8"/>
<text transform="translate(649.5,488.78)" font-family="'Liberation Sans', sans-serif" font-size="10.50" font-weight="bold" text-anchor="end" fill="#111" >0.0</text>
<line x1="650.5" y1="441.2" x2="655.5" y2="441.2" stroke="#111" stroke-width="1.8"/>
<text transform="translate(649.5,444.97999999999996)" font-family="'Liberation Sans', sans-serif" font-size="10.50" font-weight="bold" text-anchor="end" fill="#111" >0.5</text>
<line x1="650.5" y1="397.4" x2="655.5" y2="397.4" stroke="#111" stroke-width="1.8"/>
<text transform="translate(649.5,401.17999999999995)" font-family="'Liberation Sans', sans-serif" font-size="10.50" font-weight="bold" text-anchor="end" fill="#111" >1.0</text>
<line x1="650.5" y1="353.6" x2="655.5" y2="353.6" stroke="#111" stroke-width="1.8"/>
<text transform="translate(649.5,357.38)" font-family="'Liberation Sans', sans-serif" font-size="10.50" font-weight="bold" text-anchor="end" fill="#111" >1.5</text>
<path d="M669.2,485 L669.2,397.5 L692,397.5 L692,485" fill="none" stroke="#111" stroke-width="1.8"/>
<circle cx="671.5" cy="397.5" r="1.8" fill="#111"/>
<circle cx="676.0" cy="397.5" r="1.8" fill="#111"/>
<circle cx="680.5" cy="397.5" r="1.8" fill="#111"/>
<circle cx="685.0" cy="397.5" r="1.8" fill="#111"/>
<circle cx="689.5" cy="397.5" r="1.8" fill="#111"/>
<path d="M706.7,485 L706.7,415.4 L729.8,415.4 L729.8,485" fill="none" stroke="#e3202b" stroke-width="2"/>
<line x1="718.4" y1="404.4" x2="718.4" y2="425.3" stroke="#e3202b" stroke-width="1.2"/>
<line x1="712.6" y1="404.4" x2="724.1999999999999" y2="404.4" stroke="#e3202b" stroke-width="1.2"/>
<line x1="712.6" y1="425.3" x2="724.1999999999999" y2="425.3" stroke="#e3202b" stroke-width="1.2"/>
<circle cx="718.4" cy="388.3" r="2" fill="#e3202b"/>
<circle cx="718.4" cy="394.8" r="2" fill="#e3202b"/>
<circle cx="718.4" cy="399.3" r="2" fill="#e3202b"/>
<circle cx="718.4" cy="422.7" r="2" fill="#e3202b"/>
<circle cx="718.4" cy="428.9" r="2" fill="#e3202b"/>
<circle cx="718.4" cy="455.3" r="2" fill="#e3202b"/>
<text transform="translate(603.3,417.5) rotate(-90) scale(0.985,1)" font-family="'Liberation Serif', serif" font-size="13.68" font-weight="bold" text-anchor="middle" fill="#111" stroke="#111" stroke-width="0.35" >POM121 expression</text>
<text transform="translate(622.4,417) rotate(-90) scale(0.985,1)" font-family="'Liberation Serif', serif" font-size="13.89" font-weight="bold" text-anchor="middle" fill="#111" stroke="#111" stroke-width="0.35" >(fold change)</text>
<line x1="654.5" y1="498.6" x2="654.5" y2="631.9" stroke="#111" stroke-width="1.8"/>
<line x1="649.5" y1="631" x2="742.5" y2="631" stroke="#111" stroke-width="1.8"/>
<line x1="649.5" y1="631.0" x2="654.5" y2="631.0" stroke="#111" stroke-width="1.8"/>
<text transform="translate(648.5,634.78)" font-family="'Liberation Sans', sans-serif" font-size="10.50" font-weight="bold" text-anchor="end" fill="#111" >0.0</text>
<line x1="649.5" y1="587.2" x2="654.5" y2="587.2" stroke="#111" stroke-width="1.8"/>
<text transform="translate(648.5,590.98)" font-family="'Liberation Sans', sans-serif" font-size="10.50" font-weight="bold" text-anchor="end" fill="#111" >0.5</text>
<line x1="649.5" y1="543.4" x2="654.5" y2="543.4" stroke="#111" stroke-width="1.8"/>
<text transform="translate(648.5,547.18)" font-family="'Liberation Sans', sans-serif" font-size="10.50" font-weight="bold" text-anchor="end" fill="#111" >1.0</text>
<line x1="649.5" y1="499.6" x2="654.5" y2="499.6" stroke="#111" stroke-width="1.8"/>
<text transform="translate(648.5,503.38)" font-family="'Liberation Sans', sans-serif" font-size="10.50" font-weight="bold" text-anchor="end" fill="#111" >1.5</text>
<path d="M668.7,631 L668.7,543.2 L691.5,543.2 L691.5,631" fill="none" stroke="#111" stroke-width="1.8"/>
<circle cx="671.0" cy="543.2" r="1.8" fill="#111"/>
<circle cx="675.5" cy="543.2" r="1.8" fill="#111"/>
<circle cx="680.0" cy="543.2" r="1.8" fill="#111"/>
<circle cx="684.5" cy="543.2" r="1.8" fill="#111"/>
<circle cx="689.0" cy="543.2" r="1.8" fill="#111"/>
<path d="M705.7,631 L705.7,547.7 L729.3,547.7 L729.3,631" fill="none" stroke="#e3202b" stroke-width="2"/>
<line x1="718" y1="542.5" x2="718" y2="551.5" stroke="#e3202b" stroke-width="1.2"/>
<line x1="711.75" y1="542.5" x2="724.25" y2="542.5" stroke="#e3202b" stroke-width="1.2"/>
<line x1="711.75" y1="551.5" x2="724.25" y2="551.5" stroke="#e3202b" stroke-width="1.2"/>
<circle cx="714" cy="530.8" r="2" fill="#e3202b"/>
<circle cx="722.2" cy="534.2" r="2" fill="#e3202b"/>
<circle cx="718.2" cy="549.2" r="2" fill="#e3202b"/>
<circle cx="714" cy="554.2" r="2" fill="#e3202b"/>
<circle cx="722.2" cy="555.5" r="2" fill="#e3202b"/>
<circle cx="714" cy="559.3" r="2" fill="#e3202b"/>
<text transform="translate(603.5,566) rotate(-90) scale(0.985,1)" font-family="'Liberation Serif', serif" font-size="13.73" font-weight="bold" text-anchor="middle" fill="#111" stroke="#111" stroke-width="0.35" >KPNB1 expression</text>
<text transform="translate(621.6,567) rotate(-90) scale(0.985,1)" font-family="'Liberation Serif', serif" font-size="14.04" font-weight="bold" text-anchor="middle" fill="#111" stroke="#111" stroke-width="0.35" >(fold change)</text>
<text transform="translate(641.5,650.3) scale(0.985,1)" font-family="'Liberation Serif', serif" font-size="14.66" font-weight="bold" text-anchor="end" fill="#111" stroke="#111" stroke-width="0.35" >GFP</text>
<text transform="translate(642,666.1) scale(0.985,1)" font-family="'Liberation Serif', serif" font-size="14.66" font-weight="bold" text-anchor="end" fill="#111" stroke="#111" stroke-width="0.35" >GFP-(G<tspan font-size="10.0" dy="3.2">4</tspan><tspan dy="-3.2">C</tspan><tspan font-size="10.0" dy="3.2">2</tspan><tspan dy="-3.2">)</tspan><tspan font-size="10.0" dy="3.2">31</tspan></text>
<text transform="translate(680,648.42)" font-family="'Liberation Sans', sans-serif" font-size="14.00" font-weight="bold" text-anchor="middle" fill="#111" stroke="#111" stroke-width="0.35">+</text>
<text transform="translate(722.5,648.42)" font-family="'Liberation Sans', sans-serif" font-size="14.00" font-weight="bold" text-anchor="middle" fill="#111" stroke="#111" stroke-width="0.35">-</text>
<text transform="translate(680,668.12)" font-family="'Liberation Sans', sans-serif" font-size="14.00" font-weight="bold" text-anchor="middle" fill="#111" stroke="#111" stroke-width="0.35">-</text>
<text transform="translate(722.5,668.12)" font-family="'Liberation Sans', sans-serif" font-size="14.00" font-weight="bold" text-anchor="middle" fill="#111" stroke="#111" stroke-width="0.35">+</text>
<text transform="translate(100,747)" font-family="'Liberation Sans', sans-serif" font-size="38.30" font-weight="normal" text-anchor="start" fill="#000" stroke="#000" stroke-width="0.7">F</text>
<text transform="translate(223.2,746.6) scale(0.985,1)" font-family="'Liberation Serif', serif" font-size="16.30" font-weight="bold" text-anchor="start" fill="#111" stroke="#111" stroke-width="0.35" >GFP-(G<tspan font-size="11.1" dy="3.6">4</tspan><tspan dy="-3.6">C</tspan><tspan font-size="11.1" dy="3.6">2</tspan><tspan dy="-3.6">)</tspan><tspan font-size="11.1" dy="3.6">31</tspan></text>
<line x1="224.3" y1="758.7" x2="310.6" y2="758.7" stroke="#111" stroke-width="2.5"/>
<text transform="translate(221.6,780.8) scale(0.985,1)" font-family="'Liberation Serif', serif" font-size="13.63" font-weight="bold" text-anchor="end" fill="#111" stroke="#111" stroke-width="0.35" >HA</text>
<text transform="translate(218.7,805) scale(0.985,1)" font-family="'Liberation Serif', serif" font-size="13.63" font-weight="bold" text-anchor="end" fill="#111" stroke="#111" stroke-width="0.35" >HA-SIGMAR1</text>
<text transform="translate(245.3,780.79)" font-family="'Liberation Sans', sans-serif" font-size="13.00" font-weight="bold" text-anchor="middle" fill="#111" stroke="#111" stroke-width="0.35">+</text>
<text transform="translate(291,780.79)" font-family="'Liberation Sans', sans-serif" font-size="13.00" font-weight="bold" text-anchor="middle" fill="#111" stroke="#111" stroke-width="0.35">-</text>
<text transform="translate(245.3,803.29)" font-family="'Liberation Sans', sans-serif" font-size="13.00" font-weight="bold" text-anchor="middle" fill="#111" stroke="#111" stroke-width="0.35">-</text>
<text transform="translate(291,803.29)" font-family="'Liberation Sans', sans-serif" font-size="13.00" font-weight="bold" text-anchor="middle" fill="#111" stroke="#111" stroke-width="0.35">+</text>
<rect x="222.5" y="818.6" width="97.5" height="48.799999999999955" fill="#fbfbfb" stroke="#2a2a2a" stroke-width="1.5"/>
<rect x="222.5" y="874.9" width="98.0" height="48.700000000000045" fill="#fbfbfb" stroke="#2a2a2a" stroke-width="1.5"/>
<rect x="222.5" y="934" width="98.0" height="48.60000000000002" fill="#fbfbfb" stroke="#2a2a2a" stroke-width="1.5"/>
<rect x="222.5" y="991.6" width="98.0" height="48.69999999999993" fill="#fbfbfb" stroke="#2a2a2a" stroke-width="1.5"/>
<text transform="translate(206,861.4) scale(0.985,1)" font-family="'Liberation Serif', serif" font-size="13.63" font-weight="bold" text-anchor="end" fill="#111" stroke="#111" stroke-width="0.35" >150 kDa</text>
<line x1="207.4" y1="856.2" x2="222.5" y2="856.2" stroke="#111" stroke-width="2.0"/>
<text transform="translate(205,903.5) scale(0.985,1)" font-family="'Liberation Serif', serif" font-size="13.63" font-weight="bold" text-anchor="end" fill="#111" stroke="#111" stroke-width="0.35" >100 kDa</text>
<line x1="206.3" y1="899.4" x2="222.5" y2="899.4" stroke="#111" stroke-width="2.0"/>
<text transform="translate(205,966.2) scale(0.985,1)" font-family="'Liberation Serif', serif" font-size="13.63" font-weight="bold" text-anchor="end" fill="#111" stroke="#111" stroke-width="0.35" >25 kDa</text>
<line x1="206.3" y1="961.2" x2="222.5" y2="961.2" stroke="#111" stroke-width="2.0"/>
<text transform="translate(206.5,1028.6) scale(0.985,1)" font-family="'Liberation Serif', serif" font-size="13.63" font-weight="bold" text-anchor="end" fill="#111" stroke="#111" stroke-width="0.35" >50 kDa</text>
<line x1="208" y1="1024" x2="222.5" y2="1024" stroke="#111" stroke-width="2.0"/>
<polygon points="324.9,852.1999999999999 335.2,847.5 335.2,858.3" fill="#111"/>
<text transform="translate(342.9,857.8) scale(0.985,1)" font-family="'Liberation Serif', serif" font-size="13.63" font-weight="bold" text-anchor="start" fill="#111" stroke="#111" stroke-width="0.35" >POM121</text>
<polygon points="324.6,903.5999999999999 334.90000000000003,898.9 334.90000000000003,909.6999999999999" fill="#111"/>
<text transform="translate(342.9,908.7) scale(0.985,1)" font-family="'Liberation Serif', serif" font-size="13.63" font-weight="bold" text-anchor="start" fill="#111" stroke="#111" stroke-width="0.35" >KPNB1</text>
<polygon points="327.4,961.0999999999999 337.7,956.4 337.7,967.1999999999999" fill="#111"/>
<text transform="translate(345.7,966.5) scale(0.985,1)" font-family="'Liberation Serif', serif" font-size="13.63" font-weight="bold" text-anchor="start" fill="#111" stroke="#111" stroke-width="0.35" >HA-SIGMAR1</text>
<polygon points="330.2,1015.6999999999999 340.5,1011.0 340.5,1021.8" fill="#111"/>
<text transform="translate(348.6,1020.6) scale(0.985,1)" font-family="'Liberation Serif', serif" font-size="13.63" font-weight="bold" text-anchor="start" fill="#111" stroke="#111" stroke-width="0.35" >TUBA</text>
<rect x="228.5" y="833.7" width="36.39999999999998" height="3.6" rx="1.8" fill="#000" fill-opacity="0.6" filter="url(#b11)"/>
<rect x="279.2" y="833.2" width="31.80000000000001" height="4" rx="2.0" fill="#000" fill-opacity="0.72" filter="url(#b11)"/>
<rect x="228.5" y="848.6999999999999" width="21.5" height="3.4" rx="1.7" fill="#000" fill-opacity="0.38" filter="url(#b12)"/>
<rect x="248" y="848.5" width="17" height="3.8" rx="1.9" fill="#000" fill-opacity="0.6" filter="url(#b12)"/>
<rect x="281" y="848.4" width="32" height="4" rx="2.0" fill="#000" fill-opacity="0.75" filter="url(#b12)"/>
<rect x="292" y="850.5" width="12" height="3" rx="1.5" fill="#000" fill-opacity="0.4" filter="url(#b12)"/>
<rect x="228.5" y="855.1" width="36.39999999999998" height="3" rx="1.5" fill="#000" fill-opacity="0.08" filter="url(#b15)"/>
<rect x="281" y="855.1" width="31.19999999999999" height="3" rx="1.5" fill="#000" fill-opacity="0.1" filter="url(#b15)"/>
<rect x="232.2" y="900.4" width="38.30000000000001" height="3.8" rx="1.9" fill="#000" fill-opacity="0.75" filter="url(#b11)"/>
<rect x="278.8" y="900.4" width="33.80000000000001" height="3.8" rx="1.9" fill="#000" fill-opacity="0.75" filter="url(#b11)"/>
<rect x="236" y="901.05" width="30" height="2.5" rx="1.25" fill="#000" fill-opacity="0.3" filter="url(#b10)"/>
<rect x="283" y="901.05" width="26" height="2.5" rx="1.25" fill="#000" fill-opacity="0.3" filter="url(#b10)"/>
<rect x="262" y="947.75" width="38" height="3.5" rx="1.75" fill="#000" fill-opacity="0.1" filter="url(#b20)"/>
<rect x="281" y="947.7" width="28.69999999999999" height="3.6" rx="1.8" fill="#000" fill-opacity="0.75" filter="url(#b11)"/>
<path d="M279,958 Q290,955.5 305,956 Q313,956.5 313.5,960 Q313,965 305,965 Q290,964 279,962.5 Q277.5,960.2 279,958 Z" fill="#000" filter="url(#b9)"/>
<ellipse cx="223" cy="960" rx="2" ry="3" fill="#000" fill-opacity="0.3" filter="url(#b15)"/>
<rect x="228.5" y="1012.35" width="39.60000000000002" height="4.5" rx="2.25" fill="#000" fill-opacity="1.0" filter="url(#b10)"/>
<rect x="230" y="1015.75" width="36" height="4.5" rx="2.25" fill="#000" fill-opacity="0.45" filter="url(#b15)"/>
<rect x="279.8" y="1012.35" width="34.5" height="4.5" rx="2.25" fill="#000" fill-opacity="1.0" filter="url(#b10)"/>
<rect x="281" y="1015.75" width="31" height="4.5" rx="2.25" fill="#000" fill-opacity="0.45" filter="url(#b15)"/>
<text transform="translate(413.8,747.5)" font-family="'Liberation Sans', sans-serif" font-size="38.30" font-weight="normal" text-anchor="start" fill="#000" stroke="#000" stroke-width="0.7">G</text>
<line x1="531.7" y1="710.0999999999999" x2="531.7" y2="846.1999999999999" stroke="#111" stroke-width="1.8"/>
<line x1="526.7" y1="845.3" x2="621.6" y2="845.3" stroke="#111" stroke-width="1.8"/>
<line x1="526.7" y1="845.3" x2="531.7" y2="845.3" stroke="#111" stroke-width="1.8"/>
<text transform="translate(525.7,848.972)" font-family="'Liberation Sans', sans-serif" font-size="10.20" font-weight="bold" text-anchor="end" fill="#111" >0.0</text>
<line x1="526.7" y1="811.75" x2="531.7" y2="811.75" stroke="#111" stroke-width="1.8"/>
<text transform="translate(525.7,815.422)" font-family="'Liberation Sans', sans-serif" font-size="10.20" font-weight="bold" text-anchor="end" fill="#111" >0.5</text>
<line x1="526.7" y1="778.1999999999999" x2="531.7" y2="778.1999999999999" stroke="#111" stroke-width="1.8"/>
<text transform="translate(525.7,781.872)" font-family="'Liberation Sans', sans-serif" font-size="10.20" font-weight="bold" text-anchor="end" fill="#111" >1.0</text>
<line x1="526.7" y1="744.65" x2="531.7" y2="744.65" stroke="#111" stroke-width="1.8"/>
<text transform="translate(525.7,748.322)" font-family="'Liberation Sans', sans-serif" font-size="10.20" font-weight="bold" text-anchor="end" fill="#111" >1.5</text>
<line x1="526.7" y1="711.0999999999999" x2="531.7" y2="711.0999999999999" stroke="#111" stroke-width="1.8"/>
<text transform="translate(525.7,714.7719999999999)" font-family="'Liberation Sans', sans-serif" font-size="10.20" font-weight="bold" text-anchor="end" fill="#111" >2.0</text>
<path d="M546.3,845.3 L546.3,778.6 L569.9,778.6 L569.9,845.3" fill="none" stroke="#111" stroke-width="1.8"/>
<circle cx="550.4" cy="778.6" r="2" fill="#111"/>
<circle cx="557.7" cy="778.6" r="2" fill="#111"/>
<circle cx="565.9" cy="778.6" r="2" fill="#111"/>
<path d="M584.6,845.3 L584.6,745 L608.1,745 L608.1,845.3" fill="none" stroke="#e3202b" stroke-width="2"/>
<line x1="596.4" y1="734.2" x2="596.4" y2="754.2" stroke="#e3202b" stroke-width="1.2"/>
<line x1="590.1" y1="734.2" x2="602.6999999999999" y2="734.2" stroke="#e3202b" stroke-width="1.2"/>
<line x1="590.1" y1="754.2" x2="602.6999999999999" y2="754.2" stroke="#e3202b" stroke-width="1.2"/>
<circle cx="596.4" cy="724.5" r="2" fill="#e3202b"/>
<circle cx="596.4" cy="751.8" r="2" fill="#e3202b"/>
<circle cx="596.4" cy="756.3" r="2" fill="#e3202b"/>
<path d="M556.9,715.7 L556.9,708.7 L595.9,708.7 L595.9,715.7" fill="none" stroke="#111" stroke-width="1.8"/>
<text transform="translate(576.4,710)" font-family="'Liberation Sans', sans-serif" font-size="22.00" font-weight="bold" text-anchor="middle" fill="#111" >*</text>
<text transform="translate(478.8,774.5) rotate(-90) scale(0.985,1)" font-family="'Liberation Serif', serif" font-size="13.68" font-weight="bold" text-anchor="middle" fill="#111" stroke="#111" stroke-width="0.35" >POM121 expression</text>
<text transform="translate(495.4,774.8) rotate(-90) scale(0.985,1)" font-family="'Liberation Serif', serif" font-size="14.04" font-weight="bold" text-anchor="middle" fill="#111" stroke="#111" stroke-width="0.35" >(fold change)</text>
<line x1="536.7" y1="861.0" x2="536.7" y2="994.9" stroke="#111" stroke-width="1.8"/>
<line x1="531.7" y1="994" x2="624.8" y2="994" stroke="#111" stroke-width="1.8"/>
<line x1="531.7" y1="994" x2="536.7" y2="994" stroke="#111" stroke-width="1.8"/>
<text transform="translate(530.7,997.672)" font-family="'Liberation Sans', sans-serif" font-size="10.20" font-weight="bold" text-anchor="end" fill="#111" >0.0</text>
<line x1="531.7" y1="961.0" x2="536.7" y2="961.0" stroke="#111" stroke-width="1.8"/>
<text transform="translate(530.7,964.672)" font-family="'Liberation Sans', sans-serif" font-size="10.20" font-weight="bold" text-anchor="end" fill="#111" >0.5</text>
<line x1="531.7" y1="928.0" x2="536.7" y2="928.0" stroke="#111" stroke-width="1.8"/>
<text transform="translate(530.7,931.672)" font-family="'Liberation Sans', sans-serif" font-size="10.20" font-weight="bold" text-anchor="end" fill="#111" >1.0</text>
<line x1="531.7" y1="895.0" x2="536.7" y2="895.0" stroke="#111" stroke-width="1.8"/>
<text transform="translate(530.7,898.672)" font-family="'Liberation Sans', sans-serif" font-size="10.20" font-weight="bold" text-anchor="end" fill="#111" >1.5</text>
<line x1="531.7" y1="862.0" x2="536.7" y2="862.0" stroke="#111" stroke-width="1.8"/>
<text transform="translate(530.7,865.672)" font-family="'Liberation Sans', sans-serif" font-size="10.20" font-weight="bold" text-anchor="end" fill="#111" >2.0</text>
<path d="M549.9,994 L549.9,928 L573.4,928 L573.4,994" fill="none" stroke="#111" stroke-width="1.8"/>
<circle cx="553.2" cy="928" r="2" fill="#111"/>
<circle cx="562.4" cy="928" r="2" fill="#111"/>
<circle cx="570.1" cy="928" r="2" fill="#111"/>
<path d="M587.7,994 L587.7,920.6 L611.4,920.6 L611.4,994" fill="none" stroke="#e3202b" stroke-width="2"/>
<line x1="600.4" y1="914.2" x2="600.4" y2="926.1" stroke="#e3202b" stroke-width="1.2"/>
<line x1="594.65" y1="914.2" x2="606.15" y2="914.2" stroke="#e3202b" stroke-width="1.2"/>
<line x1="594.65" y1="926.1" x2="606.15" y2="926.1" stroke="#e3202b" stroke-width="1.2"/>
<circle cx="600.4" cy="908.3" r="2" fill="#e3202b"/>
<circle cx="600.4" cy="923" r="2" fill="#e3202b"/>
<circle cx="600.4" cy="929.3" r="2" fill="#e3202b"/>
<text transform="translate(478.8,923.8) rotate(-90) scale(0.985,1)" font-family="'Liberation Serif', serif" font-size="13.63" font-weight="bold" text-anchor="middle" fill="#111" stroke="#111" stroke-width="0.35" >KPNB1 expression</text>
<text transform="translate(496,924) rotate(-90) scale(0.985,1)" font-family="'Liberation Serif', serif" font-size="14.04" font-weight="bold" text-anchor="middle" fill="#111" stroke="#111" stroke-width="0.35" >(fold change)</text>
<text transform="translate(541.8,1012.5) scale(0.985,1)" font-family="'Liberation Serif', serif" font-size="13.63" font-weight="bold" text-anchor="end" fill="#111" stroke="#111" stroke-width="0.35" >HA</text>
<text transform="translate(540,1028.8) scale(0.985,1)" font-family="'Liberation Serif', serif" font-size="13.63" font-weight="bold" text-anchor="end" fill="#111" stroke="#111" stroke-width="0.35" >HA-SIGMAR1</text>
<text transform="translate(565.1,1011.29)" font-family="'Liberation Sans', sans-serif" font-size="13.00" font-weight="bold" text-anchor="middle" fill="#111" stroke="#111" stroke-width="0.35">+</text>
<text transform="translate(611.4,1011.29)" font-family="'Liberation Sans', sans-serif" font-size="13.00" font-weight="bold" text-anchor="middle" fill="#111" stroke="#111" stroke-width="0.35">-</text>
<text transform="translate(565.1,1026.09)" font-family="'Liberation Sans', sans-serif" font-size="13.00" font-weight="bold" text-anchor="middle" fill="#111" stroke="#111" stroke-width="0.35">-</text>
<text transform="translate(611.4,1026.09)" font-family="'Liberation Sans', sans-serif" font-size="13.00" font-weight="bold" text-anchor="middle" fill="#111" stroke="#111" stroke-width="0.35">+</text>
<line x1="540.5" y1="1032.6" x2="626.6" y2="1032.6" stroke="#111" stroke-width="2.3"/>
</svg>
</body></html>
